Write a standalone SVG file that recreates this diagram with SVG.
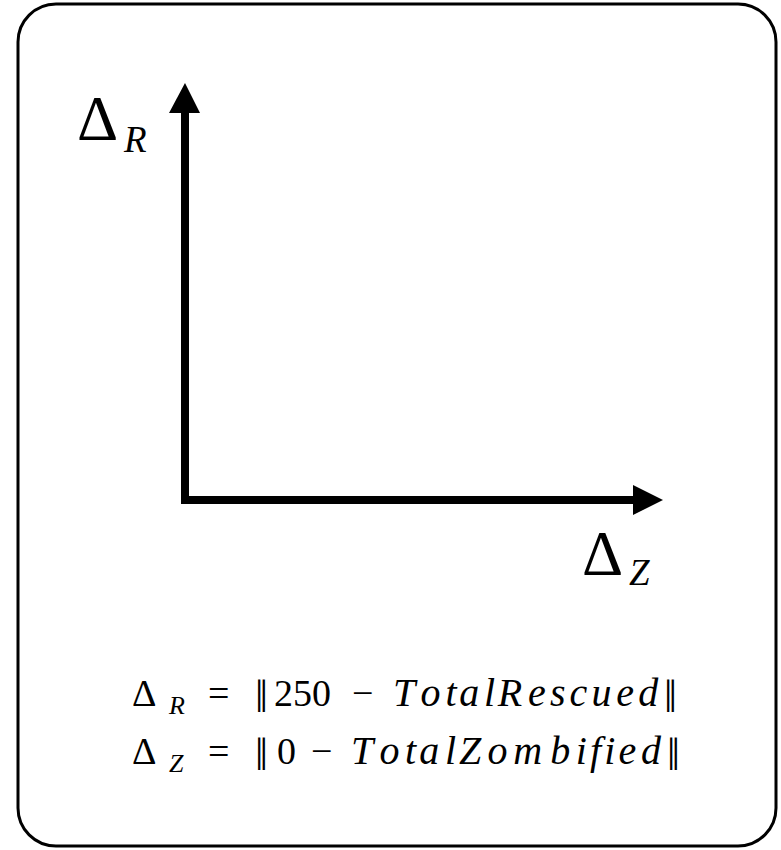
<svg xmlns="http://www.w3.org/2000/svg" width="781" height="850" viewBox="0 0 781 850">
<rect x="18" y="4" width="758" height="842" rx="38" fill="#fff" stroke="#000" stroke-width="3"/>
<g id="connectors">
<line x1="185" y1="504" x2="185" y2="110" stroke="#000" stroke-width="8"/>
<polygon points="169,113 185,83 200,113" fill="#000"/>
<line x1="181" y1="500" x2="636" y2="500" stroke="#000" stroke-width="8"/>
<polygon points="633,485 663,500 633,515" fill="#000"/>
</g>
<g id="label-dr" font-family="'Liberation Serif', 'Times New Roman', serif">
<text x="77" y="140" font-size="64">Δ<tspan x="124" y="152" font-size="37" font-style="italic">R</tspan></text>
</g>
<g id="label-dz" font-family="'Liberation Serif', 'Times New Roman', serif">
<text x="582" y="575" font-size="64">Δ<tspan x="629" y="585" font-size="37" font-style="italic">Z</tspan></text>
</g>
<g id="eq-rescued" font-family="'Liberation Serif', 'Times New Roman', serif">
<text x="132" y="706" font-size="38">Δ<tspan x="169" y="714" font-size="26" font-style="italic">R</tspan><tspan x="208" y="706">=</tspan><tspan x="255" y="712" font-size="46">‖</tspan><tspan x="274" y="706">250</tspan><tspan x="352" y="706">−</tspan><tspan font-style="italic" font-size="40"><tspan x="393">T</tspan><tspan x="420.6">o</tspan><tspan x="445.4">t</tspan><tspan x="459.2">a</tspan><tspan x="484">l</tspan><tspan x="497.8">R</tspan><tspan x="528.1">e</tspan><tspan x="550.1">s</tspan><tspan x="569.4">c</tspan><tspan x="591.4">u</tspan><tspan x="616.2">e</tspan><tspan x="638.2">d</tspan></tspan><tspan x="664" y="712" font-size="46">‖</tspan></text>
</g>
<g id="eq-zombified" font-family="'Liberation Serif', 'Times New Roman', serif">
<text x="132" y="764" font-size="38">Δ<tspan x="169" y="772" font-size="26" font-style="italic">Z</tspan><tspan x="208" y="764">=</tspan><tspan x="255" y="770" font-size="46">‖</tspan><tspan x="277" y="764">0</tspan><tspan x="311" y="764">−</tspan><tspan font-style="italic" font-size="40"><tspan x="351">T</tspan><tspan x="379.5">o</tspan><tspan x="405.1">t</tspan><tspan x="419.3">a</tspan><tspan x="444.9">l</tspan><tspan x="459.1">Z</tspan><tspan x="487.6">o</tspan><tspan x="513.2">m</tspan><tspan x="550.2">b</tspan><tspan x="575.8">i</tspan><tspan x="590">f</tspan><tspan x="604.2">i</tspan><tspan x="618.4">e</tspan><tspan x="641.1">d</tspan></tspan><tspan x="667" y="770" font-size="46">‖</tspan></text>
</g>
</svg>
